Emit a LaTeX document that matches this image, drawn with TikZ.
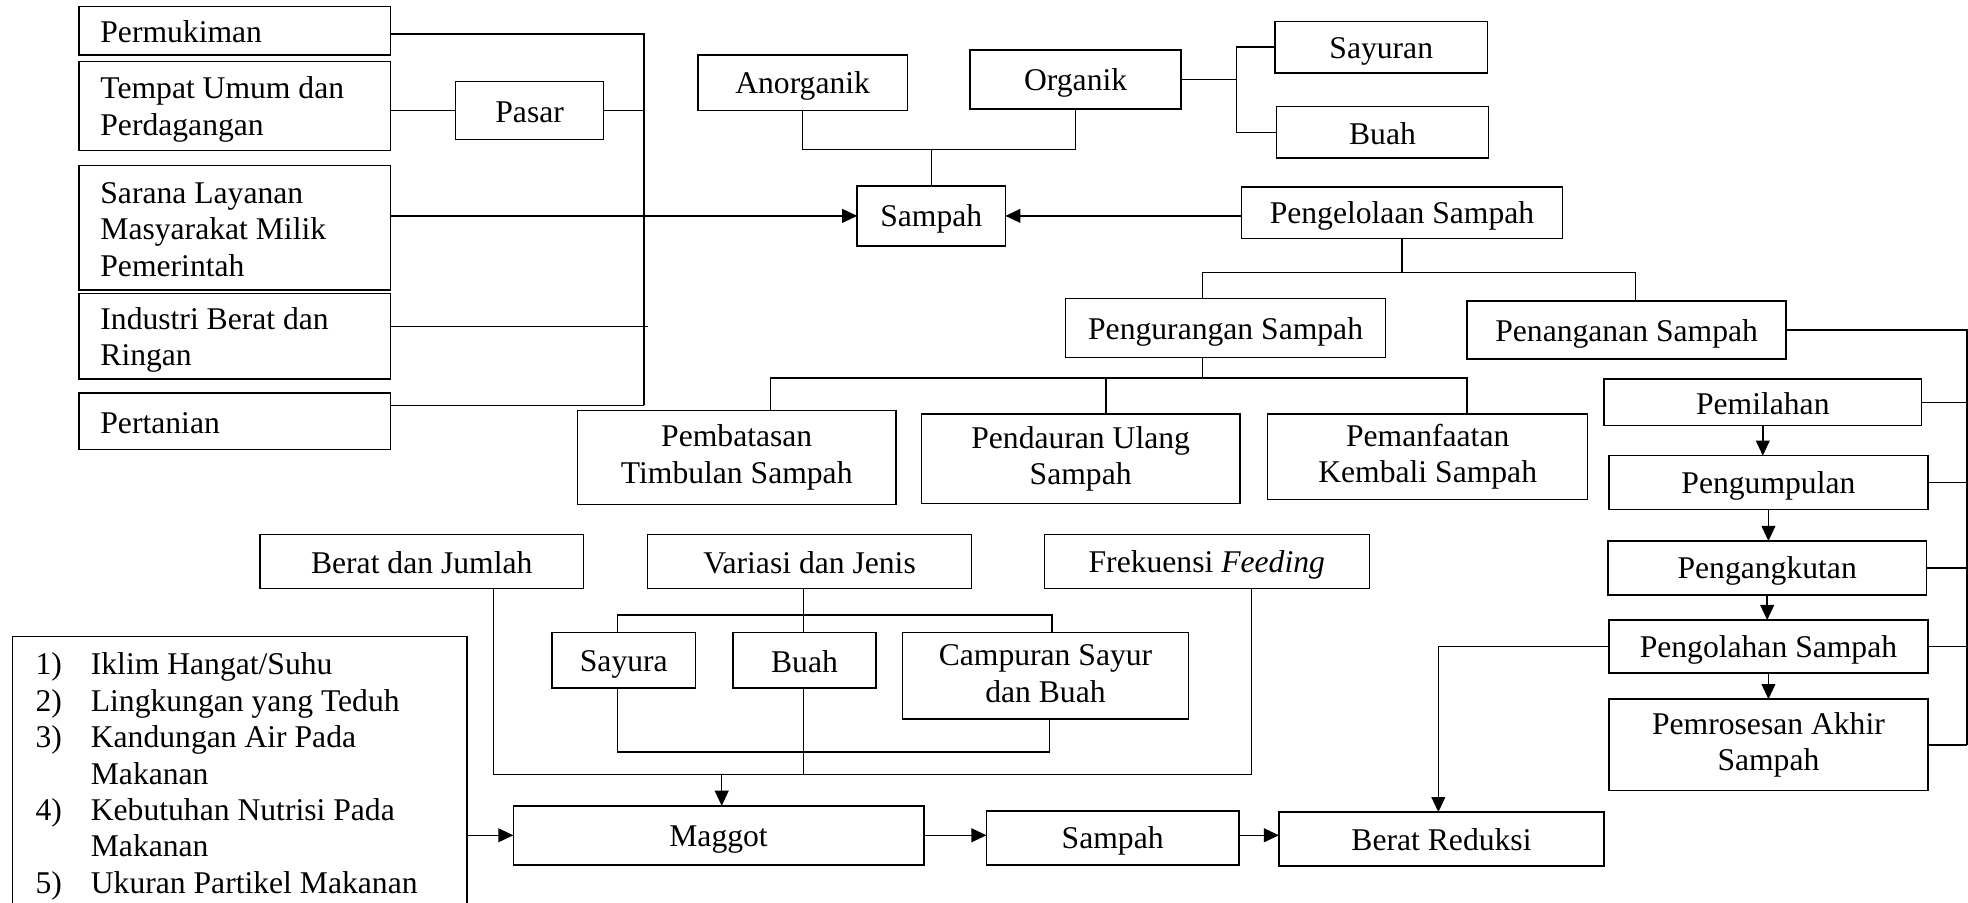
\documentclass[tikz,border=0pt]{standalone}
\usepackage{fontspec}
\setmainfont{Liberation Serif}
\usetikzlibrary{arrows.meta}
\newcommand\st{\rule[-2pt]{0pt}{13.5pt}}
\tikzset{
  box/.style={draw, line width=0.6pt, inner sep=0pt, outer sep=0pt, align=center,
    font=\fontsize{12.6}{14.5}\selectfont, execute at begin node=\st, execute at end node=\st},
  lbox/.style={box, align=flush left, text width=107pt},
  ln/.style={line width=0.6pt},
  arr/.style={ln, -{Triangle[length=6pt,width=5.5pt]}}
}
\newcommand\bx[7][]{\node[box,#1,minimum width={(#5-#3)*0.5pt},minimum height={(#6-#4)*0.5pt}] (#2) at ({(#3+#5)/2},{(#4+#6)/2}) {#7};}
\begin{document}
\begin{tikzpicture}[x=0.5pt,y=-0.5pt]
\useasboundingbox (0,0) rectangle (1568,719);
\clip (0,0) rectangle (1568,719);
\fill[white] (0,0) rectangle (1568,719);
% left column
\bx[lbox]{perm}{63}{5}{311}{44}{Permukiman}
\bx[lbox]{tempat}{63}{49}{311}{120}{Tempat Umum dan\\Perdagangan}
\bx{pasar}{363}{65}{481}{111}{Pasar}
\bx[lbox]{sarana}{63}{132}{311}{231}{Sarana Layanan\\Masyarakat Milik\\Pemerintah}
\bx[lbox]{industri}{63}{234}{311}{302}{Industri Berat dan\\Ringan}
\bx[lbox]{pert}{63}{313}{311}{358}{Pertanian}
% top middle
\bx{anorg}{556}{44}{723}{88}{Anorganik}
\bx{org}{773}{40}{941}{87}{Organik}
\bx{sayur}{1016}{17}{1185}{58}{Sayuran}
\bx{buah}{1017}{85}{1186}{126}{Buah}
\bx{samp}{683}{148}{801}{196}{Sampah}
\bx{peng}{989}{149}{1245}{190}{Pengelolaan Sampah}
\bx{pgr}{849}{238}{1104}{285}{Pengurangan Sampah}
\bx{pnn}{1169}{240}{1423}{286}{Penanganan Sampah}
\bx{pemb}{460}{327}{714}{402}{Pembatasan\\Timbulan Sampah}
\bx{pend}{734}{330}{988}{401}{Pendauran Ulang\\Sampah}
\bx{peman}{1010}{330}{1265}{398}{Pemanfaatan\\Kembali Sampah}
% right column
\bx{pil}{1278}{302}{1531}{339}{Pemilahan}
\bx{pump}{1282}{363}{1536}{406}{Pengumpulan}
\bx{angk}{1281}{431}{1535}{474}{Pengangkutan}
\bx{olah}{1282}{494}{1536}{536}{Pengolahan Sampah}
\bx{pros}{1282}{557}{1536}{630}{Pemrosesan Akhir\\Sampah}
% bottom
\bx{bj}{207}{426}{465}{469}{Berat dan Jumlah}
\bx{var}{516}{426}{774}{469}{Variasi dan Jenis}
\bx{frek}{832}{426}{1091}{469}{Frekuensi \textit{Feeding}}
\bx{sayura}{440}{504}{554}{548}{Sayura}
\bx{buahb}{584}{504}{698}{548}{Buah}
\bx{camp}{719}{504}{947}{573}{Campuran Sayur\\dan Buah}
\bx{maggot}{409}{642}{736}{689}{Maggot}
\bx{sampb}{786}{646}{987}{689}{Sampah}
\bx{red}{1019}{647}{1278}{690}{Berat Reduksi}
\node[draw, line width=0.6pt, inner sep=0pt, outer sep=0pt, minimum width={362*0.5pt}, minimum height={253*0.5pt}] (listbox) at (191,633.5) {};
\node[anchor=north west, inner sep=0pt, font=\fontsize{12.6}{14.5}\selectfont] (listtxt) at (28,517) {%
\begin{tabular}{@{}p{22pt}@{}l@{}}
1) & Iklim Hangat/Suhu\\
2) & Lingkungan yang Teduh\\
3) & Kandungan Air Pada\\
   & Makanan\\
4) & Kebutuhan Nutrisi Pada\\
   & Makanan\\
5) & Ukuran Partikel Makanan
\end{tabular}};
% coordinates
\coordinate (vb1) at (513,27);
\coordinate (vb4) at (516,260);
\coordinate (vb5) at (513,323);
\coordinate (j1) at (739,119);
\coordinate (j2) at (985,64);
\coordinate (j3a) at (958,217);
\coordinate (j3b) at (1303,217);
\coordinate (j3c) at (1119,217);
\coordinate (j4a) at (614,301);
\coordinate (j4b) at (881,301);
\coordinate (j4c) at (1169,301);
\coordinate (j4d) at (958,301);
\coordinate (rb) at (1567,260);
\coordinate (j5) at (1146,516);
\coordinate (j6a) at (393,617);
\coordinate (j6b) at (997,617);
\coordinate (j7) at (640,490);
\coordinate (j7a) at (492,490);
\coordinate (j7b) at (838,490);
\coordinate (j8a) at (492,599);
\coordinate (j8b) at (836,599);
\coordinate (j9) at (575,617);
% left group connectors
\draw[ln] (perm.east |- vb1) -- (vb1) -- (vb5);
\draw[ln] (tempat.east |- pasar.west) -- (pasar.west);
\draw[ln] (pasar.east) -- (pasar.east -| vb1);
\draw[arr] (sarana.east |- samp.west) -- (samp.west);
\draw[ln] (industri.east |- vb4) -- (vb4);
\draw[ln] (pert.east |- vb5) -- (vb5);
% organik / anorganik
\draw[ln] (anorg.south) -- (anorg.south |- j1) -- (org.south |- j1) -- (org.south);
\draw[ln] (samp.north |- j1) -- (samp.north);
\draw[ln] (org.east) -- (org.east -| j2);
\draw[ln] (j2 |- sayur.west) -- (sayur.west);
\draw[ln] (j2 |- buah.west) -- (buah.west);
\draw[ln] (j2 |- sayur.west) -- (j2 |- buah.west);
\draw[arr] (peng.west |- samp.east) -- (samp.east);
% pengelolaan tree
\draw[ln] (peng.south) -- (peng.south |- j3c);
\draw[ln] (j3a |- pgr.north) -- (j3a) -- (j3b) -- (j3b |- pnn.north);
\draw[ln] (j4d |- pgr.south) -- (j4d);
\draw[ln] (j4a |- pemb.north) -- (j4a) -- (j4c) -- (j4c |- peman.north);
\draw[ln] (j4b) -- (j4b |- pend.north);
% penanganan chain
\draw[ln] (pnn.east) -- (pnn.east -| rb) -- (rb |- pros.east);
\draw[ln] (pil.east) -- (pil.east -| rb);
\draw[ln] (pump.east) -- (pump.east -| rb);
\draw[ln] (angk.east) -- (angk.east -| rb);
\draw[ln] (olah.east) -- (olah.east -| rb);
\draw[ln] (pros.east) -- (pros.east -| rb);
\draw[arr] (pil.south) -- (pil.south |- pump.north);
\draw[arr] (pump.south) -- (pump.south |- angk.north);
\draw[arr] (angk.south) -- (angk.south |- olah.north);
\draw[arr] (olah.south) -- (olah.south |- pros.north);
\draw[arr] (olah.west) -- (olah.west -| j5) -- (j5 |- red.north);
% bottom tree
\draw[ln] (j6a |- bj.south) -- (j6a) -- (j6b) -- (j6b |- frek.south);
\draw[ln] (j7 |- var.south) -- (j7);
\draw[ln] (j7a |- sayura.north) -- (j7a) -- (j7b) -- (j7b |- camp.north);
\draw[ln] (j7) -- (j7 |- buahb.north);
\draw[ln] (j8a |- sayura.south) -- (j8a) -- (j8b) -- (j8b |- camp.south);
\draw[ln] (j7 |- buahb.south) -- (j7 |- j6a);
\draw[arr] (j9) -- (j9 |- maggot.north);
\draw[arr] (listbox.east |- maggot.west) -- (maggot.west);
\draw[arr] (maggot.east) -- (sampb.west |- maggot.east);
\draw[arr] (sampb.east |- maggot.east) -- (red.west |- maggot.east);
\end{tikzpicture}
\end{document}
